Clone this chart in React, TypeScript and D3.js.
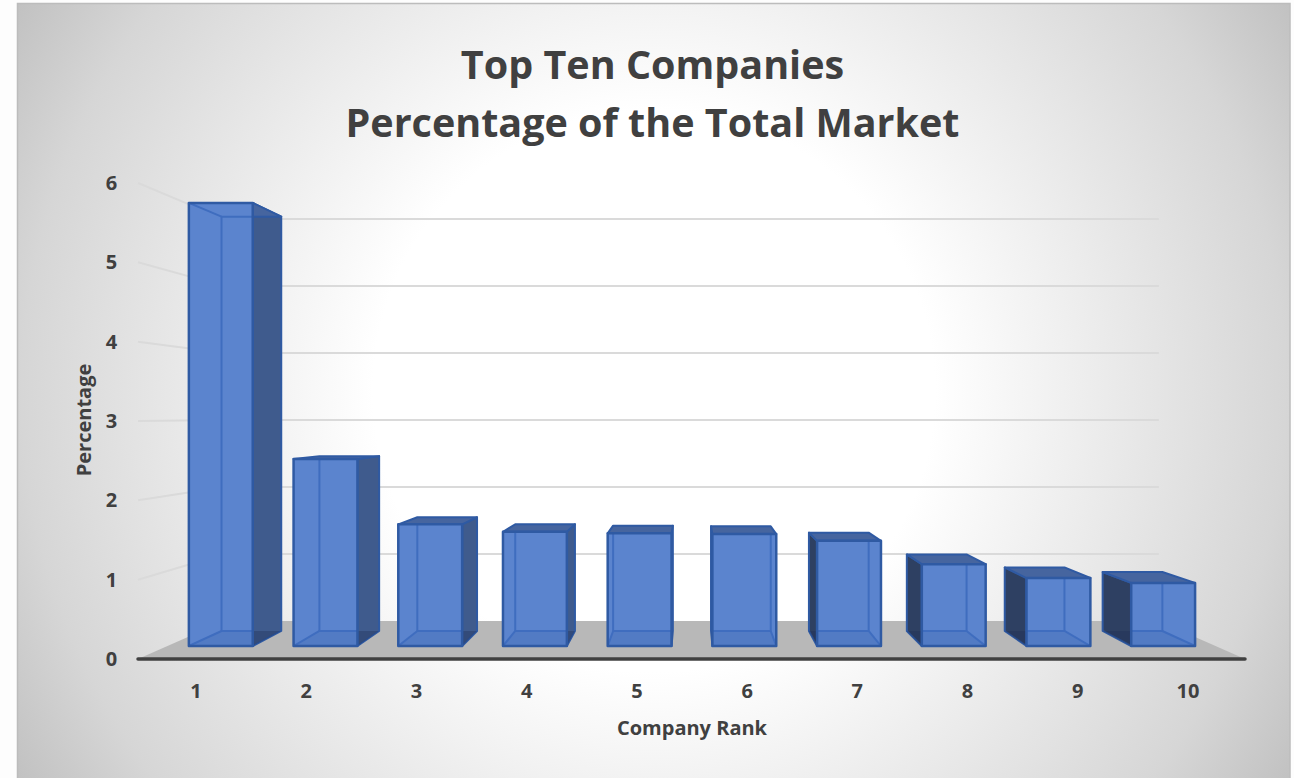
import React from "react";
import * as d3 from "d3";

// Market share of the ten largest companies, by rank
const ranks = ["1", "2", "3", "4", "5", "6", "7", "8", "9", "10"];
const shares = [5.9, 2.49, 1.62, 1.52, 1.5, 1.49, 1.4, 1.09, 0.905, 0.84];
const valueTicks = [0, 1, 2, 3, 4, 5, 6];
const titleLines = ["Top Ten Companies", "Percentage of the Total Market"];

const W = 1294;
const H = 778;
const FONT = "'Open Sans', sans-serif";
const INK = "#404040";

// Perspective camera: everything shrinks toward the vanishing point with depth
const VX = 691.5;
const VY = 415;
const DEPTH_WALL = 0.8443;
const DEPTH_BAR_FRONT = 0.9467;
const DEPTH_BAR_BACK = 0.8852;

const xBand = d3
  .scaleBand<string>()
  .domain(ranks)
  .range([139, 1245])
  .paddingInner(0.39)
  .paddingOuter(0.195);
const xLabel = d3.scalePoint<string>().domain(ranks).range([196, 1188]);
const yValue = d3.scaleLinear().domain([0, 6]).range([659, 183]);

type Pt = [number, number];
const project = (x: number, v: number, s: number): Pt => [
  VX + (x - VX) * s,
  VY + (yValue(v) - VY) * s,
];
const poly = (pts: Pt[]) => d3.line()(pts) + "Z";

function Bar({ rank, value }: { rank: string; value: number }) {
  const x0 = xBand(rank)!;
  const x1 = x0 + xBand.bandwidth();
  const f = DEPTH_BAR_FRONT;
  const b = DEPTH_BAR_BACK;
  const fbl = project(x0, 0, f);
  const fbr = project(x1, 0, f);
  const ftl = project(x0, value, f);
  const ftr = project(x1, value, f);
  const bbl = project(x0, 0, b);
  const bbr = project(x1, 0, b);
  const btl = project(x0, value, b);
  const btr = project(x1, value, b);
  const edge = "#2f5aa3";
  const inner = "#3f6dbf";
  const leftOfCentre = x1 < VX;
  const frontFace = poly([fbl, fbr, ftr, ftl]);
  const boxFloor = poly([fbl, fbr, bbr, bbl]);
  const clipId = `front-${rank}`;
  return (
    <g strokeLinejoin="round">
      <clipPath id={clipId}>
        <path d={frontFace} />
      </clipPath>
      {/* side wall facing the viewer */}
      <path
        d={poly(leftOfCentre ? [fbr, ftr, btr, bbr] : [fbl, ftl, btl, bbl])}
        fill={leftOfCentre ? "#3f5b8d" : "#2e4062"}
        stroke={edge}
        strokeWidth={2}
      />
      <path d={poly([ftl, ftr, btr, btl])} fill="#46659f" stroke={edge} strokeWidth={2} />
      {/* box floor darkens whatever it passes under */}
      <path d={boxFloor} fill="#1d2f55" fillOpacity={0.35} />
      <path d={frontFace} fill="#5b84ce" />
      <g clipPath={`url(#${clipId})`} fill="none" stroke={inner} strokeWidth={2}>
        <path d={boxFloor} fill="#3f66ad" fillOpacity={0.3} stroke="none" />
        {/* hidden edges seen through the translucent front */}
        <path d={poly([bbl, bbr, btr, btl])} />
        <path d={d3.line()([fbl, bbl]) ?? ""} />
        <path d={d3.line()([fbr, bbr]) ?? ""} />
        <path d={d3.line()([ftl, btl]) ?? ""} />
        <path d={d3.line()([ftr, btr]) ?? ""} />
      </g>
      <path d={frontFace} fill="none" stroke={edge} strokeWidth={2.5} />
    </g>
  );
}

export default function App() {
  const floor = poly([
    project(138, 0, 1),
    project(1245, 0, 1),
    project(1245, 0, DEPTH_WALL),
    project(138, 0, DEPTH_WALL),
  ]);
  const wallRight = project(1245, 0, DEPTH_WALL)[0];
  return (
    <svg
      width={W}
      height={H}
      viewBox={`0 0 ${W} ${H}`}
      style={{ position: "absolute", left: 0, top: 0, display: "block" }}
    >
      <defs>
        <radialGradient id="panelFill" gradientUnits="userSpaceOnUse" cx={654} cy={391} r={780}>
          <stop offset="0" stopColor="#ffffff" />
          <stop offset="0.36" stopColor="#ffffff" />
          <stop offset="0.81" stopColor="#d6d6d6" />
          <stop offset="1" stopColor="#bbbbbb" />
        </radialGradient>
      </defs>
      <rect width={W} height={H} fill="#fdfdfd" />
      <rect x={17.5} y={3.5} width={1272.5} height={H} fill="url(#panelFill)" stroke="#bcbcbc" strokeWidth={1.5} />

      {/* value gridlines: side wall running back, then along the rear wall */}
      <g fill="none" stroke="#dadada" strokeWidth={2}>
        {valueTicks.slice(1).map((t) => {
          const back = project(138, t, DEPTH_WALL);
          return (
            <path
              key={t}
              d={d3.line()([project(138, t, 1), back, [wallRight, back[1]]]) ?? ""}
            />
          );
        })}
      </g>

      <path d={floor} fill="#b8b8b8" />
      <line x1={138} x2={1245} y1={yValue(0)} y2={yValue(0)} stroke={INK} strokeWidth={3.5} strokeLinecap="round" />

      {ranks.map((r, i) => (
        <Bar key={r} rank={r} value={shares[i]} />
      ))}

      <g fontFamily={FONT} fontWeight={700} fill={INK}>
        <g fontSize={39.5} textAnchor="middle">
          {titleLines.map((line, i) => (
            <text key={line} x={652.5} y={79 + i * 58}>
              {line}
            </text>
          ))}
        </g>
        <g fontSize={20} textAnchor="middle">
          {valueTicks.map((t) => (
            <text key={t} x={111.5} y={yValue(t) + 7}>
              {t}
            </text>
          ))}
          {ranks.map((r) => (
            <text key={r} x={xLabel(r)!} y={698}>
              {r}
            </text>
          ))}
        </g>
        <g fontSize={20} textAnchor="middle">
          <text x={692} y={735}>
            Company Rank
          </text>
          <text transform="translate(91,420) rotate(-90)">Percentage</text>
        </g>
      </g>
    </svg>
  );
}
